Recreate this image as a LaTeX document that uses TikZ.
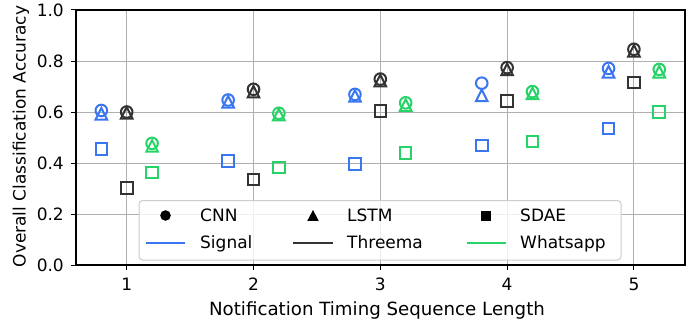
\documentclass[tikz,border=0pt]{standalone}
\usepackage{fontspec}
\setmainfont{DejaVu Sans}
\definecolor{sig}{RGB}{58,118,240}
\definecolor{thr}{RGB}{51,51,51}
\definecolor{wha}{RGB}{37,211,102}
\definecolor{gridc}{RGB}{176,176,176}
\definecolor{legedge}{RGB}{204,204,204}
\newcommand\mkC[2]{\draw[mk,#1] (#2) circle[radius=5.8bp];}
\newcommand\mkT[2]{\draw[mk,#1] (#2) ++(0,5.8bp) -- ++(-5.8bp,-11.6bp) -- ++(11.6bp,0) -- cycle;}
\newcommand\mkS[2]{\draw[mk,#1] (#2) ++(-5.8bp,-5.8bp) rectangle ++(11.6bp,11.6bp);}
\begin{document}
\begin{tikzpicture}[x=1bp,y=1bp,
  font=\fontsize{17bp}{20bp}\selectfont,
  mk/.style={line width=2bp, miter limit=10},
  gridline/.style={gridc, line width=1bp},
  lbl/.style={inner sep=0pt, text=black}]
\useasboundingbox (0,0) rectangle (699,327);
% grid
\foreach \gx in {126.7,253.5,380.3,507.1,633.9}
  \draw[gridline] (\gx,62) -- (\gx,317);
\foreach \gy in {113,164,215,266}
  \draw[gridline] (76,\gy) -- (685,\gy);
% data
\begin{scope}[shift={(-0.1bp,62bp)}, x=126.8bp, y=255bp]
  % Signal
  \foreach \v/\c/\t/\s in {1/0.606/0.593/0.455, 2/0.647/0.640/0.408, 3/0.669/0.663/0.396, 4/0.713/0.665/0.469, 5/0.771/0.758/0.536}{
    \mkC{sig}{\v-0.2,\c}\mkT{sig}{\v-0.2,\t}\mkS{sig}{\v-0.2,\s}}
  % Threema
  \foreach \v/\c/\t/\s in {1/0.600/0.597/0.303, 2/0.689/0.680/0.336, 3/0.729/0.723/0.605, 4/0.774/0.767/0.644, 5/0.846/0.840/0.715}{
    \mkC{thr}{\v,\c}\mkT{thr}{\v,\t}\mkS{thr}{\v,\s}}
  % Whatsapp
  \foreach \v/\c/\t/\s in {1/0.477/0.467/0.362, 2/0.595/0.590/0.383, 3/0.636/0.627/0.440, 4/0.680/0.673/0.484, 5/0.767/0.758/0.601}{
    \mkC{wha}{\v+0.2,\c}\mkT{wha}{\v+0.2,\t}\mkS{wha}{\v+0.2,\s}}
\end{scope}
% axes frame
\draw[black, line width=1.1bp] (76,62) rectangle (685,317);
% ticks and tick labels
\foreach \gx/\lab in {126.7/1,253.5/2,380.3/3,507.1/4,633.9/5}{
  \draw[black, line width=1bp] (\gx,62) -- (\gx,57);
  \node[lbl, anchor=base] (xt\lab) at (\gx,37) {\lab};}
\foreach \gy/\lab/\nm in {62/0.0/a,113/0.2/b,164/0.4/c,215/0.6/d,266/0.8/e,317/1.0/f}{
  \draw[black, line width=1bp] (76,\gy) -- (71,\gy);
  \node[lbl, anchor=east] (yt\nm) at (64,\gy) {\lab};}
% axis labels
\node[lbl, anchor=base, font=\fontsize{18.2bp}{21bp}\selectfont] (xlab) at (377,12) {Notification Timing Sequence Length};
\node[lbl, anchor=base, rotate=90] (ylab) at (25.5,190.5) {Overall Classification Accuracy};
% legend
\draw[legedge, line width=1bp, fill=white, fill opacity=0.8, rounded corners=3.5bp] (139,67) rectangle (621,126.5);
\fill[black] (165.5,111.5) circle[radius=5.3bp];
\fill[black] (313,117) -- (307.3,106.2) -- (318.7,106.2) -- cycle;
\fill[black] (481,106.5) rectangle (491,116.5);
\draw[sig, line width=2bp] (146,84.3) -- (185,84.3);
\draw[thr, line width=2bp] (293,84.3) -- (333,84.3);
\draw[wha, line width=2bp] (467,84.3) -- (506,84.3);
\node[lbl, anchor=base west] (lcnn) at (200,105.3) {CNN};
\node[lbl, anchor=base west] (llstm) at (347,105.3) {LSTM};
\node[lbl, anchor=base west] (lsdae) at (520,105.3) {SDAE};
\node[lbl, anchor=base west] (lsig) at (200,78.7) {Signal};
\node[lbl, anchor=base west] (lthr) at (347,78.7) {Threema};
\node[lbl, anchor=base west] (lwha) at (520,78.7) {Whatsapp};
\end{tikzpicture}
\end{document}
